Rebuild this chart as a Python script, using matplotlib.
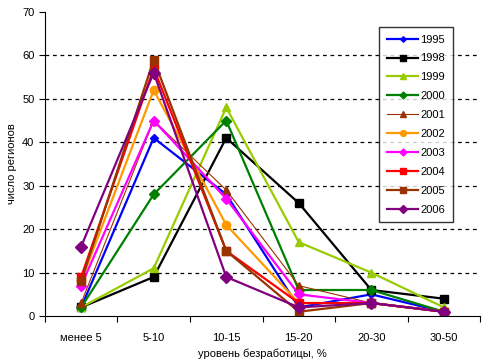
import numpy as np
import matplotlib
matplotlib.use('Agg')
import matplotlib.pyplot as plt

plt.rcParams['font.family'] = ['Liberation Sans', 'DejaVu Sans']

categories = ['менее 5', '5-10', '10-15', '15-20', '20-30', '30-50']

years = ['1995', '1998', '1999', '2000', '2001', '2002', '2003', '2004', '2005', '2006']
v1995 = [2, 41, 28, 2, 5, 1]
v1998 = [2, 9, 41, 26, 6, 4]
v1999 = [2, 11, 48, 17, 10, 2]
v2000 = [2, 28, 45, 6, 6, 1]
v2001 = [3, 45, 29, 7, 3, 1]
v2002 = [8, 52, 21, 3, 3, 1]
v2003 = [7, 45, 27, 5, 3, 1]
v2004 = [9, 57, 15, 3, 3, 1]
v2005 = [8, 59, 15, 1, 3, 1]
v2006 = [16, 56, 9, 2, 3, 1]
series = [v1995, v1998, v1999, v2000, v2001, v2002, v2003, v2004, v2005, v2006]

colors = ['#0000FF', '#000000', '#99CC00', '#008000', '#993300',
          '#FF9900', '#FF00FF', '#FF0000', '#993300', '#800080']
markers = ['D', 's', '^', 'D', '^', 'o', 'D', 's', 's', 'D']
msizes = [4, 6, 6, 5, 6, 6, 5, 6, 6, 6]
widths = [1.6, 1.6, 1.6, 1.6, 0.8, 1.6, 1.6, 1.6, 1.6, 1.6]

fig = plt.figure(figsize=(4.93, 3.6), dpi=100)
ax = fig.add_axes([0.091, 0.122, 0.883, 0.845])

x = np.arange(len(categories))
for yr, vals, c, m, ms, lw in zip(years, series, colors, markers, msizes, widths):
    ax.plot(x, vals, color=c, marker=m, markersize=ms, linewidth=lw,
            markeredgecolor=c, label=yr)

ax.set_xlim(-0.5, len(categories) - 0.5)
ax.set_ylim(0, 70)
ax.set_yticks(np.arange(0, 71, 10))
ax.set_xticks(np.arange(-0.5, len(categories), 1))
ax.set_xticklabels([])
ax.set_xticks(x, minor=True)
ax.set_xticklabels(categories, minor=True)
ax.tick_params(axis='x', which='minor', length=0, pad=12)
ax.tick_params(axis='both', which='major', labelsize=8, direction='out', length=4)
ax.tick_params(axis='x', which='minor', labelsize=8)

for yv in range(10, 70, 10):
    ax.axhline(yv, color='black', linestyle=(0, (3, 3)), linewidth=0.9, zorder=0)

ax.spines['top'].set_visible(False)
ax.spines['right'].set_visible(False)

ax.set_xlabel('уровень безработицы, %', fontsize=8, labelpad=4)
ax.set_ylabel('число регионов', fontsize=8)
ax.yaxis.set_label_coords(-0.064, 0.5)

leg = ax.legend(loc='upper left', bbox_to_anchor=(0.768, 0.951), fontsize=8,
                frameon=True, fancybox=False, edgecolor='black',
                handlelength=2.8, labelspacing=0.8, borderpad=0.7,
                handletextpad=0.2, markerscale=0.7, borderaxespad=0)
leg.get_frame().set_linewidth(1)

fig.savefig('out.png', dpi=100)
